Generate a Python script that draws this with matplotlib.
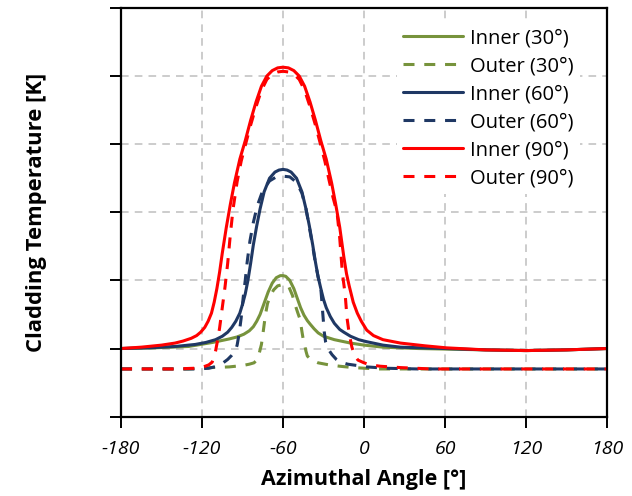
import matplotlib
matplotlib.use("Agg")
from matplotlib import pyplot as plt

plt.rcParams['font.family'] = ['Open Sans', 'DejaVu Sans']
plt.rcParams['axes.unicode_minus'] = False

# azimuthal profiles of cladding temperature, inner and outer surface
x_in_30 = [-180, -155, -130, -112, -100, -94, -89, -85, -82, -79.5, -77, -75, -73, -71, -68, -65, -62, -60,
           -58, -55, -52, -49.5, -47, -44.5, -42, -40, -37, -34, -30, -22, -10, 0, 14, 40, 90, 120, 150, 180]
y_in_30 = [1.00, 1.01, 1.03, 1.09, 1.14, 1.17, 1.21, 1.26, 1.32, 1.40, 1.50, 1.61, 1.72, 1.83, 1.96, 2.04, 2.07, 2.07,
           2.06, 2.00, 1.88, 1.74, 1.60, 1.49, 1.41, 1.36, 1.29, 1.23, 1.18, 1.13, 1.08, 1.05, 1.02, 1.00, 0.98, 0.97, 0.98, 1.00]

x_out_30 = [-180, -130, -114, -100, -90, -85, -81.5, -79.5, -78, -77, -76, -75, -74, -73, -71.5, -69.5, -67, -64, -60,
            -56, -53, -51, -49, -47.4, -46, -45, -44, -43, -42, -40, -37.5, -34, -26, -18, -8, 10, 180]
y_out_30 = [0.70, 0.70, 0.72, 0.73, 0.75, 0.77, 0.79, 0.83, 0.90, 0.98, 1.06, 1.20, 1.35, 1.50, 1.66, 1.77, 1.86, 1.92, 1.94,
            1.92, 1.78, 1.64, 1.52, 1.43, 1.25, 1.13, 1.05, 0.96, 0.89, 0.85, 0.82, 0.79, 0.76, 0.74, 0.72, 0.70, 0.70]

x_in_60 = [-180, -160, -140, -125, -117, -110, -105, -101, -98, -95, -92, -90, -88, -86, -84, -82, -79.5, -77, -74, -70,
           -66, -63, -60, -57, -54, -50, -46, -43, -40.5, -38, -36, -34, -32, -30, -28, -25, -22, -18, -15, -10, -4, 2,
           14, 27, 60, 90, 120, 150, 180]
y_in_60 = [1.00, 1.01, 1.03, 1.06, 1.09, 1.13, 1.18, 1.24, 1.31, 1.40, 1.52, 1.65, 1.80, 2.00, 2.25, 2.52, 2.80, 3.05, 3.30, 3.50,
           3.59, 3.62, 3.63, 3.62, 3.59, 3.50, 3.30, 3.05, 2.80, 2.52, 2.27, 2.05, 1.88, 1.72, 1.60, 1.47, 1.37, 1.28, 1.24, 1.18, 1.13, 1.10,
           1.05, 1.02, 1.00, 0.98, 0.97, 0.98, 1.00]

x_out_60 = [-180, -125, -115, -109, -105, -101, -98, -95.5, -94, -92.5, -91, -89.5, -88, -86.5, -84.5, -82, -79, -75, -70,
            -65, -60, -55, -50, -46, -43, -40.5, -38, -36, -34, -32, -30.5, -29.5, -28.5, -26.5, -23.7, -20.5, -17.8, -12,
            -5, 2, 17, 40, 180]
y_out_60 = [0.70, 0.70, 0.71, 0.74, 0.78, 0.84, 0.90, 0.96, 1.05, 1.22, 1.45, 1.75, 2.00, 2.28, 2.58, 2.85, 3.10, 3.32, 3.46,
            3.52, 3.53, 3.52, 3.44, 3.28, 3.05, 2.78, 2.50, 2.25, 2.05, 1.88, 1.50, 1.25, 1.10, 0.99, 0.91, 0.84, 0.80, 0.77,
            0.75, 0.73, 0.71, 0.70, 0.70]

x_in_90 = [-180, -165, -150, -140, -134, -128, -124, -121, -118, -115.5, -113, -111, -109, -107, -105, -102, -99, -96, -92, -88,
           -84, -80, -76, -72, -68, -64, -60, -56, -52, -48, -44, -40, -36, -32, -28, -24, -21, -18, -15, -13, -11, -8,
           -5, -2, 2, 7, 14, 27, 45, 61, 90, 120, 150, 180]
y_in_90 = [1.00, 1.02, 1.05, 1.08, 1.11, 1.15, 1.19, 1.24, 1.31, 1.40, 1.52, 1.68, 1.88, 2.12, 2.40, 2.78, 3.12, 3.43, 3.78, 4.05,
           4.35, 4.62, 4.85, 5.00, 5.08, 5.12, 5.13, 5.12, 5.08, 5.00, 4.85, 4.62, 4.35, 4.05, 3.78, 3.43, 3.12, 2.78, 2.35,
           2.10, 1.92, 1.68, 1.52, 1.40, 1.27, 1.19, 1.13, 1.08, 1.04, 1.01, 0.98, 0.97, 0.98, 1.00]

x_out_90 = [-180, -140, -126, -119, -115, -112.5, -111, -110, -108.5, -107, -105, -103, -101, -99, -97, -94, -91, -88,
            -84, -80, -76, -72, -68, -64, -60, -56, -52, -48, -44, -40, -36, -32, -29, -26, -23, -20, -18, -16, -14,
            -12.6, -11, -9, -7, -4.5, 0, 4.5, 12, 27, 50, 180]
y_out_90 = [0.70, 0.70, 0.71, 0.73, 0.76, 0.80, 0.88, 0.96, 1.12, 1.30, 1.60, 1.90, 2.25, 2.68, 3.05, 3.45, 3.75, 3.98,
            4.28, 4.55, 4.79, 4.95, 5.03, 5.06, 5.07, 5.06, 5.03, 4.95, 4.79, 4.55, 4.28, 3.98, 3.75, 3.48, 3.22, 3.00,
            2.62, 2.10, 1.80, 1.45, 1.22, 1.02, 0.90, 0.83, 0.79, 0.76, 0.74, 0.72, 0.70, 0.70]

green = '#77933C'
navy = '#1F3864'
red = '#FF0000'

series = [
    (x_in_30, y_in_30, green, '-', 'Inner (30°)'),
    (x_out_30, y_out_30, green, '--', 'Outer (30°)'),
    (x_in_60, y_in_60, navy, '-', 'Inner (60°)'),
    (x_out_60, y_out_60, navy, '--', 'Outer (60°)'),
    (x_in_90, y_in_90, red, '-', 'Inner (90°)'),
    (x_out_90, y_out_90, red, '--', 'Outer (90°)'),
]

fig = plt.figure(figsize=(6.32, 4.96), dpi=100)
ax = fig.add_axes([0.1915, 0.160, 0.769, 0.824])

for x, y, c, ls, lab in series:
    line, = ax.plot(x, y, color=c, lw=2.2, ls=ls, label=lab, solid_capstyle='round',
                    solid_joinstyle='round', dash_joinstyle='round')
    if ls == '--':
        line.set_dashes((3.6, 3.2))

ax.set_xlim(-180, 180)
ax.set_ylim(0, 6)
ax.set_xticks(range(-180, 181, 60))
ax.set_yticks(range(0, 7))
ax.set_yticklabels([])
ax.grid(True, ls=(0, (5, 4)), color='#BFBFBF', lw=1.1)
ax.set_axisbelow(True)
for s in ax.spines.values():
    s.set_linewidth(1.6)
    s.set_color('black')
ax.tick_params(direction='out', length=8, width=1.4, color='black')
for t in ax.get_xticklabels():
    t.set_fontstyle('italic')
    t.set_fontsize(14)
ax.tick_params(axis='x', pad=9)

ax.set_xlabel('Azimuthal Angle [°]', fontsize=15.5, fontweight='bold', labelpad=8)
ax.set_ylabel('Cladding Temperature [K]', fontsize=15.8, fontweight='bold', labelpad=42)

leg = ax.legend(loc='upper right', bbox_to_anchor=(0.965, 0.99), fontsize=14.5,
                handlelength=3.0, handletextpad=0.35, labelspacing=0.40,
                frameon=True, fancybox=False, borderpad=0.3)
leg.get_frame().set_edgecolor('none')
leg.get_frame().set_facecolor('white')
leg.get_frame().set_alpha(1)

fig.savefig('out.png', dpi=100)
